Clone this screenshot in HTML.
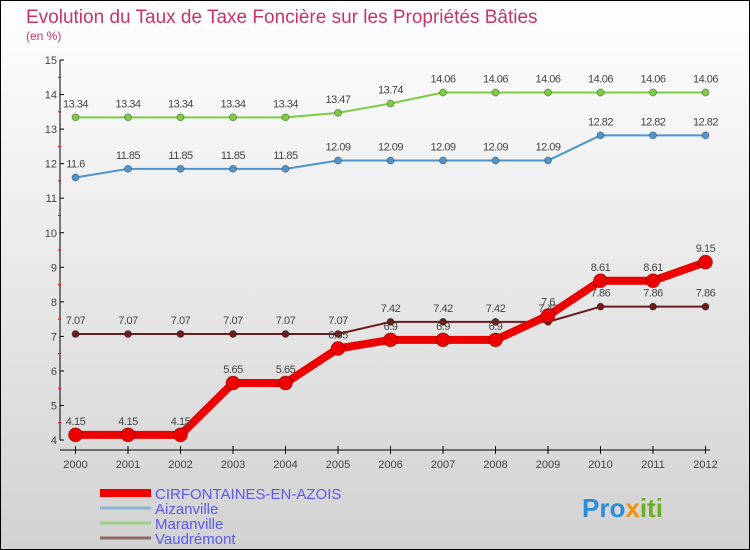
<!DOCTYPE html>
<html><head><meta charset="utf-8"><style>
body{margin:0}
svg{display:block;font-family:"Liberation Sans",sans-serif}
</style></head><body>
<svg width="750" height="550" id="c">
<defs><linearGradient id="bg" x1="0" y1="0" x2="0" y2="1"><stop offset="0" stop-color="#ffffff"/><stop offset="1" stop-color="#d2d2d2"/></linearGradient></defs>
<rect x="0.5" y="0.5" width="749" height="549" fill="url(#bg)" stroke="#000"/>
<text x="26" y="23" font-size="19" fill="#c8336a">Evolution du Taux de Taxe Foncière sur les Propriétés Bâties</text>
<text x="26" y="40" font-size="12" fill="#c8336a">(en %)</text>
<g id="axes"></g><g id="series"></g><g id="legend"></g>
<text x="582" y="517" font-size="26" font-weight="bold" fill="#2a8fd6">Pro<tspan fill="#f39200">x</tspan><tspan fill="#6ab023">iti</tspan></text>
</svg>
<script>
const years=["2000","2001","2002","2003","2004","2005","2006","2007","2008","2009","2010","2011","2012"];
const yTicks=[4,5,6,7,8,9,10,11,12,13,14,15];
const cirf=[4.15,4.15,4.15,5.65,5.65,6.65,6.9,6.9,6.9,7.6,8.61,8.61,9.15];
const aizan=[11.6,11.85,11.85,11.85,11.85,12.09,12.09,12.09,12.09,12.09,12.82,12.82,12.82];
const maran=[13.34,13.34,13.34,13.34,13.34,13.47,13.74,14.06,14.06,14.06,14.06,14.06,14.06];
const vaud=[7.07,7.07,7.07,7.07,7.07,7.07,7.42,7.42,7.42,7.42,7.86,7.86,7.86];
const NS="http://www.w3.org/2000/svg";
const X=i=>75.5+i*52.5, Y=v=>60+(15-v)*34.55;
function mk(t,a,p){const e=document.createElementNS(NS,t);for(const k in a)e.setAttribute(k,a[k]);p.appendChild(e);return e;}
const ax=document.getElementById('axes');
const ya=mk('line',{x1:60,y1:60,x2:60,y2:440,stroke:'#000'},ax);


const xa=mk('line',{x1:60,y1:450,x2:710,y2:450,stroke:'#000'},ax);


yTicks.forEach(v=>{
 mk('line',{x1:60,y1:Y(v),x2:64,y2:Y(v),stroke:'#000'},ax);
 if(v<15) mk('line',{x1:58,y1:Y(v+0.5),x2:61,y2:Y(v+0.5),stroke:'#e00'},ax);
 const t=mk('text',{x:57,y:Y(v)+4,'font-size':11,fill:'#444','text-anchor':'end'},ax);t.textContent=v;
 
 
});
years.forEach((y,i)=>{
 mk('line',{x1:X(i),y1:446,x2:X(i),y2:454,stroke:'#000'},ax);
 const t=mk('text',{x:X(i),y:468,'font-size':11,fill:'#444','text-anchor':'middle'},ax);t.textContent=y;
 
 
});
const sg=document.getElementById('series');
function fmt(v){return String(v).replace(/^(\d+)\.(\d)(\d)$/,(m,a,b,c)=>a+'.'+b+c);}
function series(d,col,w,r,name,lc){
 const g=mk('g',{},sg);
 
 
 mk('polyline',{points:d.map((v,i)=>X(i)+','+Y(v)).join(' '),fill:'none',stroke:col,'stroke-width':w,'stroke-linejoin':'round'},g);
 d.forEach((v,i)=>{
  const c=mk('circle',{cx:X(i),cy:Y(v),r:r,fill:col,stroke:'rgba(0,0,0,0.3)'},g);
  
  
  const t=mk('text',{x:X(i),y:Y(v)-10,'font-size':11,fill:'#444','text-anchor':'middle','letter-spacing':'-0.5'},g);t.textContent=fmt(v);
 });
}
series(maran,'#7dcc44',2,3.5,'maranville-series');
series(aizan,'#4f95cc',2,3.5,'aizanville-series');
series(vaud,'#6b1c1c',2,3.5,'vaudremont-series');
series(cirf,'#ee0000',8,7,'cirfontaines-series');
const lg=document.getElementById('legend');
[["CIRFONTAINES-EN-AZOIS","#ee0000",8],["Aizanville","#8ab4cf",3],["Maranville","#9fd088",3],["Vaudrémont","#906a6a",3]].forEach((e,i)=>{
 const y=[493,508,523,538][i];
 const g=mk('g',{},lg);
 
 
 mk('line',{x1:100,y1:y,x2:151,y2:y,stroke:e[1],'stroke-width':e[2]},g);
 const t=mk('text',{x:155,y:y+6,'font-size':15,fill:'#5a5aee'},g);t.textContent=e[0];
});
</script>
</body></html>
